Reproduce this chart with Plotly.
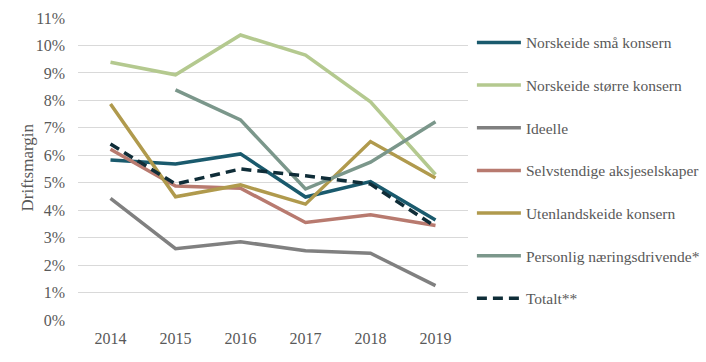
import plotly.graph_objects as go

years = ["2014", "2015", "2016", "2017", "2018", "2019"]
norsk_sma = [5.83, 5.68, 6.05, 4.48, 5.04, 3.64]
norsk_storre = [9.39, 8.93, 10.38, 9.65, 7.95, 5.3]
ideelle = [4.43, 2.6, 2.85, 2.52, 2.43, 1.25]
selvstendige = [6.22, 4.88, 4.8, 3.55, 3.83, 3.44]
utenlandsk = [7.87, 4.49, 4.92, 4.22, 6.5, 5.17]
personlig = [None, 8.38, 7.29, 4.77, 5.75, 7.22]
totalt = [6.41, 4.95, 5.5, 5.25, 4.95, 3.4]

series = [
    ("Norskeide små konsern", norsk_sma, "#1a5a6d", "solid"),
    ("Norskeide større konsern", norsk_storre, "#b4c98f", "solid"),
    ("Ideelle", ideelle, "#808080", "solid"),
    ("Selvstendige aksjeselskaper", selvstendige, "#b87a6f", "solid"),
    ("Utenlandskeide konsern", utenlandsk, "#b09a4d", "solid"),
    ("Personlig næringsdrivende*", personlig, "#7b978b", "solid"),
    ("Totalt**", totalt, "#0f2d38", "10px,6px"),
]

FONT = "Liberation Serif"
fig = go.Figure()
for i, (name, vals, color, dash) in enumerate(series):
    fig.add_trace(go.Scatter(
        x=years, y=[v / 100 if v is not None else None for v in vals],
        mode="lines", name=name, legendgroup=f"g{i}",
        line=dict(color=color, width=3.5, dash=dash),
        connectgaps=False,
    ))

fig.update_layout(
    width=706, height=362,
    margin=dict(l=78, r=238, t=18, b=42, autoexpand=False),
    paper_bgcolor="white", plot_bgcolor="white",
    font=dict(family=FONT, size=16, color="#595959"),
    showlegend=True,
    legend=dict(
        x=1.01, xanchor="left", y=0.974, yanchor="top",
        traceorder="grouped", tracegroupgap=19.5,
        itemwidth=44,
        font=dict(family=FONT, size=15.5, color="#595959"),
        bgcolor="rgba(0,0,0,0)",
    ),
    xaxis=dict(
        type="category", range=[-0.5, 5.5], showgrid=False, zeroline=False, showline=False,
        ticks="", tickfont=dict(size=16, color="#595959"), automargin=False,
        ticklabelstandoff=7,
    ),
    yaxis=dict(
        range=[0, 0.11], dtick=0.01, tickformat=".0%",
        showgrid=True, gridcolor="#d9d9d9", gridwidth=1.3,
        zeroline=False, showline=False, ticks="", automargin=False,
        tickfont=dict(size=16, color="#595959"), ticklabelstandoff=12,
    ),
    annotations=[dict(
        text="Driftsmargin", textangle=-90, showarrow=False,
        xref="paper", yref="paper", x=(27 - 78) / 390, y=0.505,
        xanchor="center", yanchor="middle",
        font=dict(family=FONT, size=17, color="#595959"),
    )],
)

fig.write_html("out.html", config={"displayModeBar": False},
               post_script="document.body.style.margin='0px';")
